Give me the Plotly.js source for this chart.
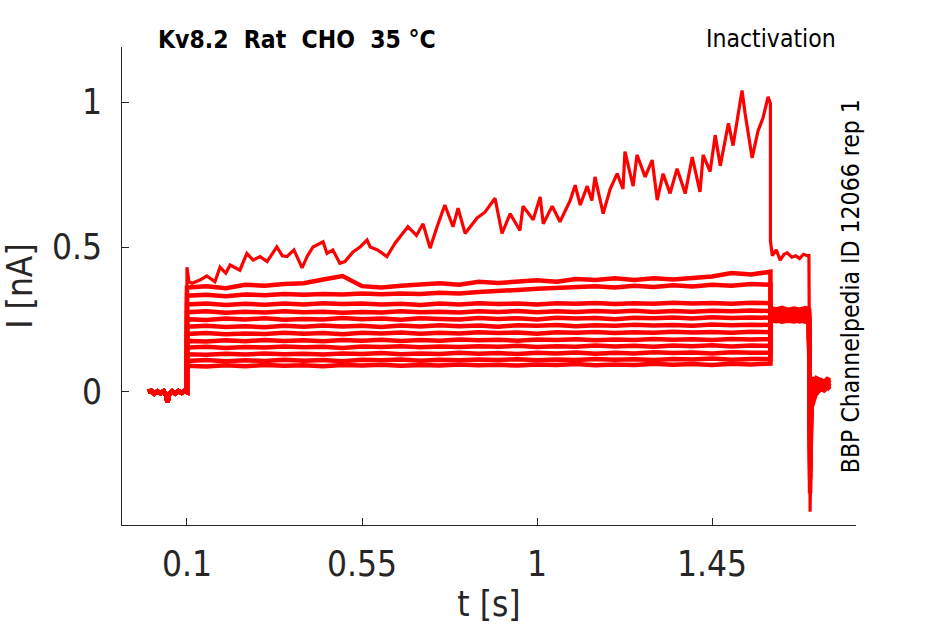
<!DOCTYPE html>
<html>
<head>
<meta charset="utf-8">
<script src="https://cdn.plot.ly/plotly-3.0.1.min.js"></script>
<style>html,body{margin:0;padding:0;background:#fff;}#chart{width:945px;height:624px;}</style>
</head>
<body>
<div id="chart"></div>
<script>
// ---- data ----
var titleText = "Kv8.2  Rat  CHO  35 \u00B0C";
var protocolText = "Inactivation";
var sourceText = "BBP Channelpedia ID 12066 rep 1";
var xTickVals = [0.1, 0.55, 1, 1.45];
var xTickText = ["0.1", "0.55", "1", "1.45"];
var yTickVals = [0, 0.5, 1];
var yTickText = ["0", "0.5", "1"];

// holding period before the step (shared baseline)
var baseT = [0.0, 0.008, 0.016, 0.024, 0.032, 0.04, 0.046, 0.05, 0.054, 0.062, 0.07, 0.078, 0.086, 0.094, 0.1];
var baseI = [0.0, 0.004, -0.006, 0.002, -0.004, 0.003, -0.01, -0.035, -0.008, 0.002, -0.005, 0.003, -0.003, 0.004, 0.0];

// trace with the rising current
var aT = [0.1, 0.105, 0.113, 0.133, 0.151, 0.172, 0.185, 0.2, 0.211, 0.236, 0.254, 0.27, 0.288, 0.306, 0.331, 0.345, 0.357, 0.375, 0.396, 0.41, 0.424, 0.45, 0.46, 0.475, 0.493, 0.506, 0.527, 0.545, 0.563, 0.571, 0.59, 0.614, 0.635, 0.668, 0.69, 0.707, 0.725, 0.743, 0.763, 0.784, 0.797, 0.815, 0.828, 0.846, 0.866, 0.892, 0.91, 0.931, 0.956, 0.964, 0.99, 1.008, 1.016, 1.039, 1.059, 1.085, 1.098, 1.111, 1.129, 1.141, 1.149, 1.17, 1.188, 1.206, 1.221, 1.226, 1.247, 1.257, 1.278, 1.296, 1.309, 1.324, 1.342, 1.36, 1.381, 1.399, 1.419, 1.427, 1.445, 1.458, 1.471, 1.492, 1.504, 1.527, 1.535, 1.548, 1.553, 1.568, 1.581, 1.594, 1.6];
var aI = [0.43, 0.38, 0.375, 0.386, 0.40, 0.38, 0.43, 0.41, 0.438, 0.42, 0.478, 0.455, 0.467, 0.45, 0.50, 0.47, 0.467, 0.49, 0.428, 0.47, 0.50, 0.518, 0.478, 0.49, 0.444, 0.45, 0.483, 0.5, 0.524, 0.50, 0.49, 0.467, 0.513, 0.57, 0.54, 0.58, 0.496, 0.57, 0.645, 0.57, 0.634, 0.547, 0.57, 0.60, 0.62, 0.668, 0.547, 0.615, 0.557, 0.641, 0.594, 0.673, 0.58, 0.641, 0.587, 0.66, 0.713, 0.645, 0.71, 0.66, 0.742, 0.615, 0.70, 0.753, 0.70, 0.829, 0.71, 0.818, 0.742, 0.80, 0.662, 0.753, 0.685, 0.77, 0.685, 0.81, 0.69, 0.818, 0.76, 0.886, 0.78, 0.927, 0.85, 1.04, 0.96, 0.86, 0.807, 0.90, 0.946, 1.018, 0.995];
var aTailT = [1.6, 1.605, 1.615, 1.625, 1.635, 1.643, 1.655, 1.665, 1.675, 1.685, 1.695, 1.699];
var aTailI = [0.52, 0.47, 0.49, 0.455, 0.475, 0.48, 0.465, 0.47, 0.46, 0.475, 0.47, 0.47];

// the other sweeps, sampled every 0.05 s during the step
var lowT = [0.1, 0.15, 0.2, 0.25, 0.3, 0.35, 0.4, 0.45, 0.5, 0.55, 0.6, 0.65, 0.7, 0.75, 0.8, 0.85, 0.9, 0.95, 1.0, 1.05, 1.1, 1.15, 1.2, 1.25, 1.3, 1.35, 1.4, 1.45, 1.5, 1.55, 1.6];
var iB = [0.36,0.365,0.358,0.37,0.366,0.372,0.375,0.388,0.40,0.365,0.36,0.366,0.372,0.375,0.37,0.38,0.376,0.382,0.385,0.38,0.39,0.386,0.392,0.386,0.392,0.388,0.392,0.398,0.41,0.405,0.415];
var iC = [0.332,0.335,0.33,0.336,0.334,0.338,0.335,0.338,0.336,0.34,0.337,0.34,0.338,0.342,0.34,0.345,0.35,0.352,0.356,0.36,0.362,0.365,0.36,0.366,0.362,0.368,0.364,0.37,0.366,0.372,0.37];
var iD = [0.302,0.305,0.3,0.304,0.301,0.305,0.302,0.306,0.303,0.305,0.302,0.304,0.3,0.305,0.302,0.306,0.303,0.305,0.302,0.306,0.304,0.307,0.303,0.306,0.304,0.308,0.305,0.307,0.304,0.308,0.306];
var iE = [0.275,0.278,0.273,0.277,0.274,0.278,0.275,0.277,0.273,0.276,0.274,0.278,0.275,0.277,0.274,0.278,0.276,0.279,0.275,0.278,0.276,0.279,0.277,0.28,0.276,0.279,0.277,0.28,0.278,0.281,0.279];
var iF = [0.251,0.248,0.253,0.25,0.254,0.249,0.252,0.25,0.255,0.251,0.253,0.249,0.254,0.252,0.25,0.255,0.252,0.254,0.25,0.256,0.253,0.255,0.251,0.256,0.254,0.257,0.253,0.258,0.255,0.257,0.256];
var iG = [0.225,0.228,0.224,0.227,0.223,0.228,0.225,0.229,0.226,0.228,0.224,0.229,0.226,0.23,0.227,0.229,0.225,0.23,0.228,0.231,0.227,0.23,0.228,0.232,0.229,0.231,0.228,0.233,0.23,0.232,0.231];
var iH = [0.2,0.203,0.199,0.202,0.2,0.204,0.201,0.203,0.199,0.204,0.202,0.205,0.201,0.204,0.202,0.206,0.203,0.205,0.201,0.206,0.204,0.207,0.203,0.206,0.204,0.208,0.205,0.207,0.204,0.208,0.206];
var iI = [0.176,0.174,0.178,0.175,0.179,0.176,0.178,0.175,0.179,0.177,0.18,0.176,0.179,0.177,0.181,0.178,0.18,0.177,0.181,0.179,0.182,0.178,0.181,0.179,0.183,0.18,0.182,0.179,0.183,0.181,0.182];
var iJ = [0.153,0.156,0.152,0.155,0.153,0.157,0.154,0.156,0.152,0.157,0.155,0.158,0.154,0.157,0.155,0.158,0.156,0.159,0.155,0.158,0.156,0.16,0.157,0.159,0.156,0.16,0.158,0.161,0.157,0.16,0.159];
var iK = [0.13,0.128,0.132,0.129,0.133,0.13,0.132,0.129,0.133,0.131,0.134,0.13,0.133,0.131,0.135,0.132,0.134,0.131,0.135,0.133,0.136,0.132,0.135,0.133,0.137,0.134,0.136,0.133,0.137,0.135,0.136];
var iL = [0.107,0.11,0.106,0.109,0.107,0.111,0.108,0.11,0.106,0.111,0.109,0.112,0.108,0.111,0.109,0.112,0.11,0.113,0.109,0.112,0.11,0.114,0.111,0.113,0.11,0.114,0.112,0.115,0.111,0.114,0.113];
var iM = [0.09,0.088,0.092,0.089,0.093,0.09,0.092,0.089,0.093,0.091,0.094,0.09,0.093,0.091,0.095,0.092,0.094,0.091,0.095,0.093,0.096,0.092,0.095,0.093,0.097,0.094,0.096,0.093,0.097,0.095,0.098];

// second step (1.6 - 1.7 s)
var lowTailT = [1.6, 1.615, 1.63, 1.645, 1.66, 1.675, 1.69, 1.699];
var lowTail = [
  [0.29,0.285,0.29,0.283,0.288,0.284,0.289,0.286],
  [0.282,0.278,0.284,0.279,0.283,0.277,0.282,0.28],
  [0.276,0.28,0.274,0.279,0.275,0.28,0.276,0.278],
  [0.272,0.268,0.274,0.27,0.273,0.269,0.274,0.271],
  [0.268,0.265,0.27,0.266,0.269,0.264,0.27,0.267],
  [0.264,0.268,0.262,0.266,0.263,0.267,0.262,0.265],
  [0.26,0.257,0.262,0.258,0.261,0.256,0.262,0.259],
  [0.256,0.26,0.255,0.258,0.254,0.259,0.255,0.257],
  [0.253,0.25,0.255,0.251,0.254,0.249,0.255,0.252],
  [0.25,0.253,0.248,0.252,0.249,0.253,0.248,0.251],
  [0.247,0.244,0.249,0.245,0.248,0.243,0.249,0.246],
  [0.244,0.247,0.242,0.246,0.243,0.247,0.242,0.245]
];

// return to holding: tail spike and recovery
var endT = [1.702, 1.706, 1.71, 1.716, 1.722, 1.73, 1.738, 1.746, 1.753];
var spikeMin = [-0.413, -0.35, -0.30, -0.27, -0.24, -0.2, -0.17, -0.14, -0.11, -0.09, -0.07, -0.05, -0.04];
var recovery = [
  [-0.03, 0.01, 0.03, 0.02, 0.035, 0.02, 0.03, 0.025],
  [0.05, 0.04, 0.045, 0.035, 0.04, 0.03, 0.04, 0.035],
  [-0.04, -0.02, 0.0, 0.01, 0.02, 0.015, 0.025, 0.02],
  [0.02, 0.03, 0.025, 0.035, 0.02, 0.03, 0.025, 0.03],
  [0.0, 0.015, 0.02, 0.01, 0.025, 0.015, 0.02, 0.01],
  [0.04, 0.035, 0.045, 0.03, 0.04, 0.035, 0.045, 0.04],
  [-0.02, 0.0, 0.01, 0.02, 0.01, 0.02, 0.015, 0.02],
  [0.03, 0.025, 0.035, 0.02, 0.03, 0.025, 0.03, 0.02],
  [0.01, 0.02, 0.015, 0.025, 0.02, 0.03, 0.02, 0.025],
  [0.045, 0.04, 0.035, 0.045, 0.04, 0.035, 0.04, 0.03],
  [-0.05, -0.03, -0.01, 0.0, 0.01, 0.005, 0.015, 0.01],
  [0.025, 0.02, 0.03, 0.025, 0.02, 0.03, 0.025, 0.02],
  [0.035, 0.03, 0.04, 0.03, 0.035, 0.025, 0.035, 0.03]
];

// ---- build traces ----
var lowSweeps = [iB, iC, iD, iE, iF, iG, iH, iI, iJ, iK, iL, iM];
var traces = [];
function sweep(tMain, iMain, tTail, iTail, k, w) {
  return {
    type: 'scatter', mode: 'lines',
    x: baseT.concat(tMain, tTail, endT),
    y: baseI.concat(iMain, iTail, [spikeMin[k]], recovery[k]),
    line: {color: '#ff0000', width: w},
    hoverinfo: 'skip', showlegend: false
  };
}
for (var k = lowSweeps.length - 1; k >= 0; k--) {
  traces.push(sweep(lowT, lowSweeps[k], lowTailT, lowTail[k], k + 1, 4.5));
}
traces.push(sweep(aT, aI, aTailT, aTailI, 0, 3.2));

var axisColor = '#262626';
var fontFam = '"DejaVu Sans Condensed", "DejaVu Sans", sans-serif';
var layout = {
  width: 945, height: 624,
  margin: {l: 122, r: 89, t: 47, b: 99},
  paper_bgcolor: '#ffffff', plot_bgcolor: '#ffffff',
  showlegend: false,
  font: {family: fontFam, color: axisColor},
  xaxis: {
    range: [-0.067, 1.82], tickvals: xTickVals, ticktext: xTickText,
    ticks: 'inside', ticklen: 7, tickcolor: axisColor, tickwidth: 1,
    showline: true, linecolor: axisColor, linewidth: 1, mirror: false,
    showgrid: false, zeroline: false, ticklabelstandoff: 8,
    tickfont: {size: 35, color: axisColor, family: fontFam},
    title: {text: 't [s]', font: {size: 35, color: axisColor, family: fontFam}, standoff: 10}
  },
  yaxis: {
    range: [-0.459, 1.19], tickvals: yTickVals, ticktext: yTickText,
    ticks: 'inside', ticklen: 7, tickcolor: axisColor, tickwidth: 1,
    showline: true, linecolor: axisColor, linewidth: 1, mirror: false,
    showgrid: false, zeroline: false, ticklabelstandoff: 12,
    tickfont: {size: 35, color: axisColor, family: fontFam},
    title: {text: 'I [nA]', font: {size: 35, color: axisColor, family: fontFam}, standoff: 8}
  },
  annotations: [
    {text: '<b>' + titleText + '</b>', xref: 'paper', yref: 'paper', x: 0.239, y: 1.015,
     xanchor: 'center', yanchor: 'middle', showarrow: false, font: {size: 24.5, color: '#000000', family: fontFam}},
    {text: protocolText, xref: 'paper', yref: 'paper', x: 0.9755, y: 1.017,
     xanchor: 'right', yanchor: 'middle', showarrow: false, font: {size: 24.5, color: '#000000', family: fontFam}},
    {text: sourceText, xref: 'paper', yref: 'paper', x: 0.992, y: 0.5, textangle: -90,
     xanchor: 'center', yanchor: 'middle', showarrow: false, font: {size: 24.5, color: '#000000', family: fontFam}}
  ]
};
Plotly.newPlot('chart', traces, layout, {displayModeBar: false, staticPlot: true});
</script>
</body>
</html>
